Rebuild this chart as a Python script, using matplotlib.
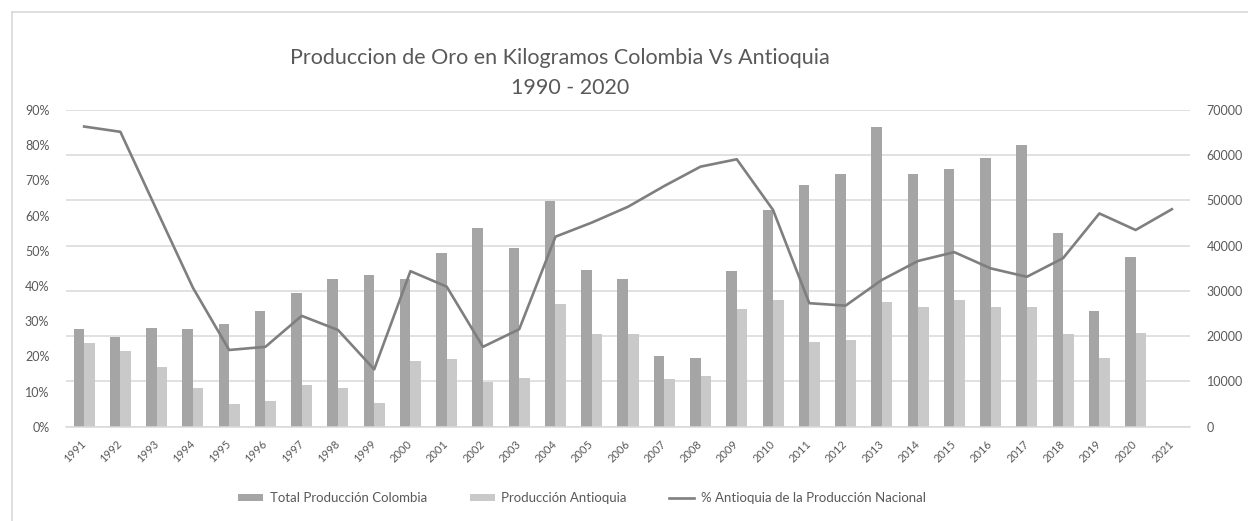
import matplotlib
matplotlib.use("Agg")
import matplotlib.pyplot as plt
from matplotlib.lines import Line2D
import numpy as np

years = [str(y) for y in range(1991, 2022)]
total_colombia = [21530, 19890, 21880, 21530, 22770, 25570, 29620, 32710, 33530, 32710,
                  38320, 43920, 39560, 49890, 34700, 32710, 15630, 15250, 34340, 47900,
                  53420, 55780, 66170, 55850, 57030, 59460, 62190, 42740, 25570, 37580, 0]
prod_antioquia = [18430, 16800, 13260, 8480, 4950, 5680, 9280, 8480, 5300, 14450,
                  14890, 9880, 10830, 27190, 20420, 20420, 10470, 11270, 26010, 28000,
                  18790, 19230, 27560, 26390, 28000, 26390, 26390, 20420, 15250, 20780, 0]
pct_antioquia = [0.853, 0.838, 0.616, 0.395, 0.218, 0.227, 0.315, 0.275, 0.163, 0.442,
                 0.398, 0.227, 0.277, 0.540, 0.580, 0.625, 0.684, 0.739, 0.760, 0.616,
                 0.351, 0.344, 0.417, 0.471, 0.496, 0.450, 0.426, 0.479, 0.606, 0.559, 0.618]

left_ticks = [0, 0.1, 0.2, 0.3, 0.4, 0.5, 0.6, 0.7, 0.8, 0.9]
right_ticks = [0, 10000, 20000, 30000, 40000, 50000, 60000, 70000]

plt.rcParams['font.family'] = ['Lato', 'DejaVu Sans']
txt = '#595959'
W, H = 1248, 521
fig = plt.figure(figsize=(W / 100, H / 100), dpi=100)

# outer chart border (top and left visible)
fig.add_artist(Line2D([12 / W, 1], [1 - 12 / H, 1 - 12 / H], color='#d9d9d9', lw=1.2))
fig.add_artist(Line2D([12 / W, 12 / W], [0, 1 - 12 / H], color='#d9d9d9', lw=1.2))

x0, x1, yb, yt = 66, 1190, 426.7, 110
ax = fig.add_axes([x0 / W, 1 - yb / H, (x1 - x0) / W, (yb - yt) / H])
ax2 = ax.twinx()
x = np.arange(len(years))
bw = 0.29
b1 = ax.bar(x - bw / 2, total_colombia, bw, color='#a5a5a5', label='Total Producción Colombia', zorder=2)
b2 = ax.bar(x + bw / 2, prod_antioquia, bw, color='#c9c9c9', label='Producción Antioquia', zorder=2)
ax.set_ylim(0, 70000)
ax.set_xlim(-0.5, len(years) - 0.5)
ax.set_yticks(right_ticks)
ax.set_yticklabels([str(v) for v in right_ticks])
ax.grid(axis='y', color='#d9d9d9', lw=1.1, zorder=0)
ax.set_axisbelow(True)
for s in ['top', 'left', 'right']:
    ax.spines[s].set_visible(False)
ax.spines['bottom'].set_color('#d9d9d9')
ax.spines['bottom'].set_linewidth(1.1)
ax.tick_params(axis='y', length=0, pad=12, labelsize=9, labelcolor=txt)
ax.set_xticks(x)
ax.set_xticklabels(years, rotation=45, ha='right', va='center', rotation_mode='anchor')
ax.tick_params(axis='x', length=0, pad=11, labelsize=8, labelcolor=txt)

ln, = ax2.plot(x, pct_antioquia, color='#7f7f7f', lw=1.9, label='% Antioquia de la Producción Nacional',
               solid_joinstyle='round')
ax2.set_ylim(0, 0.9)
ax2.set_yticks(left_ticks)
ax2.set_yticklabels([f'{int(round(v * 100))}%' for v in left_ticks])
ax2.tick_params(axis='y', length=0, pad=12, labelsize=9, labelcolor=txt)
for s in ax2.spines.values():
    s.set_visible(False)

# sides: bars' (kg) axis on the right, percentage axis on the left
ax.yaxis.tick_right()
ax2.yaxis.tick_left()

fig.text(560 / W, 1 - 58 / H, 'Produccion de Oro en Kilogramos Colombia Vs Antioquia',
         ha='center', va='center', fontsize=15.5, color=txt)
fig.text(570 / W, 1 - 88 / H, '1990 - 2020', ha='center', va='center', fontsize=15.5, color=txt)

fig.legend(handles=[b1, b2, ln], loc='center', bbox_to_anchor=(582 / W, 1 - 498 / H), ncol=3,
           frameon=False, fontsize=9.5, labelcolor=txt, handlelength=1.9, handleheight=0.5,
           columnspacing=3.2, handletextpad=0.5)

fig.savefig('out.png', dpi=100)
